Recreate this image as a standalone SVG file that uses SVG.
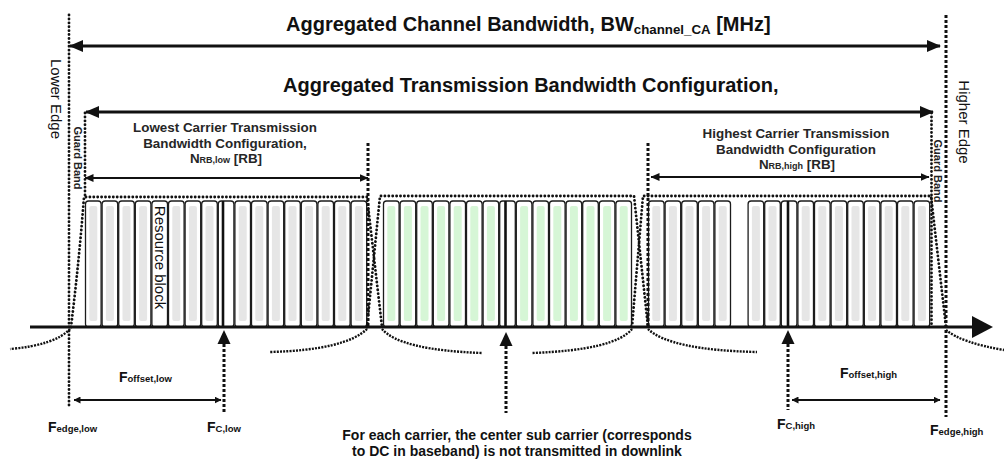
<svg xmlns="http://www.w3.org/2000/svg" xmlns:xlink="http://www.w3.org/1999/xlink" width="1004" height="459" viewBox="0 0 1004 459">
  <style>
    text { font-family: "Liberation Sans", Arial, sans-serif; fill: #111; }
    .title { font-size: 20px; font-weight: bold; }
    .cap { font-size: 13.4px; font-weight: bold; fill: #262626; text-anchor: middle; }
    .side { font-size: 15px; }
    .gb { font-size: 11px; font-weight: bold; fill: #222; }
    .f { font-size: 14px; font-weight: bold; }
    .note { font-size: 14px; font-weight: bold; text-anchor: middle; }
    .rbox { fill: #fff; stroke: #1c1c1c; stroke-width: 1.3; }
    .gray { fill: #e6e6e6; }
    .green { fill: #d6f6d6; }
    .dots { fill: none; stroke: #111; stroke-width: 2.8; stroke-dasharray: 0.1 3.8; stroke-linecap: round; }
    .dash { fill: none; stroke: #111; stroke-width: 3; stroke-dasharray: 3 2; }
    .skirt { fill: none; stroke: #111; stroke-width: 2.4; stroke-dasharray: 2 1.2; }
    .arrow { fill: none; stroke: #111; }
    .dc { stroke: #111; stroke-width: 2.6; }
  </style>
  <defs>
    <marker id="big" viewBox="0 0 14 12" refX="13" refY="6" markerWidth="14" markerHeight="12" markerUnits="userSpaceOnUse" orient="auto-start-reverse">
      <path d="M0,0 L14,6 L0,12 z" fill="#111"/>
    </marker>
    <marker id="mid" viewBox="0 0 9 8" refX="8.5" refY="4" markerWidth="9" markerHeight="8" markerUnits="userSpaceOnUse" orient="auto-start-reverse">
      <path d="M0,0 L9,4 L0,8 z" fill="#111"/>
    </marker>
    <marker id="small" viewBox="0 0 7 7" refX="6.5" refY="3.5" markerWidth="7" markerHeight="7" markerUnits="userSpaceOnUse" orient="auto-start-reverse">
      <path d="M0,0 L7,3.5 L0,7 z" fill="#111"/>
    </marker>
    <!-- resource block variants -->
    <g id="rbGray">
      <rect class="rbox" x="0.5" y="201" width="15.6" height="126" rx="3"/>
      <rect class="gray" x="4.3" y="206" width="8" height="115" rx="2"/>
    </g>
    <g id="rbGreen">
      <rect class="rbox" x="0.5" y="201" width="15.6" height="126" rx="3"/>
      <rect class="green" x="4.3" y="206" width="8" height="115" rx="2"/>
    </g>
    <g id="rbPlain">
      <rect class="rbox" x="0.5" y="201" width="15.6" height="126" rx="3"/>
    </g>
  </defs>

  <rect width="1004" height="459" fill="#fff"/>

  <!-- lowest carrier -->
  <g id="carrier-low">
    <use xlink:href="#rbGray" x="85"/>
    <use xlink:href="#rbGray" x="101.6"/>
    <use xlink:href="#rbGray" x="118.2"/>
    <use xlink:href="#rbGray" x="134.8"/>
    <use xlink:href="#rbPlain" x="151.4"/>
    <use xlink:href="#rbGray" x="168"/>
    <use xlink:href="#rbGray" x="184.6"/>
    <use xlink:href="#rbGray" x="201.2"/>
    <use xlink:href="#rbPlain" x="217.8"/>
    <use xlink:href="#rbGray" x="234.4"/>
    <use xlink:href="#rbGray" x="251"/>
    <use xlink:href="#rbGray" x="267.6"/>
    <use xlink:href="#rbGray" x="284.2"/>
    <use xlink:href="#rbGray" x="300.8"/>
    <use xlink:href="#rbGray" x="317.4"/>
    <use xlink:href="#rbGray" x="334"/>
    <use xlink:href="#rbGray" x="350.6"/>
    <line class="dc" x1="223" y1="201" x2="223" y2="327"/>
    <text class="side" x="155" y="257.5" text-anchor="middle" transform="rotate(90 155 257.5)">Resource block</text>
  </g>

  <!-- middle carrier -->
  <g id="carrier-mid">
    <use xlink:href="#rbGreen" x="383"/>
    <use xlink:href="#rbGreen" x="399.6"/>
    <use xlink:href="#rbGreen" x="416.2"/>
    <use xlink:href="#rbGreen" x="432.8"/>
    <use xlink:href="#rbGreen" x="449.4"/>
    <use xlink:href="#rbGreen" x="466"/>
    <use xlink:href="#rbGreen" x="482.6"/>
    <use xlink:href="#rbPlain" x="499.2"/>
    <use xlink:href="#rbGreen" x="515.8"/>
    <use xlink:href="#rbGreen" x="532.4"/>
    <use xlink:href="#rbGreen" x="549"/>
    <use xlink:href="#rbGreen" x="565.6"/>
    <use xlink:href="#rbGreen" x="582.2"/>
    <use xlink:href="#rbGreen" x="598.8"/>
    <use xlink:href="#rbGreen" x="615.4"/>
    <line class="dc" x1="505.5" y1="201" x2="505.5" y2="327"/>
  </g>

  <!-- highest carrier -->
  <g id="carrier-high">
    <use xlink:href="#rbGray" x="648"/>
    <use xlink:href="#rbGray" x="664.6"/>
    <use xlink:href="#rbGray" x="681.2"/>
    <use xlink:href="#rbGray" x="697.8"/>
    <use xlink:href="#rbGray" x="714.4"/>
    <use xlink:href="#rbGray" x="747.6"/>
    <use xlink:href="#rbGray" x="764.2"/>
    <use xlink:href="#rbPlain" x="780.8"/>
    <use xlink:href="#rbGray" x="797.4"/>
    <use xlink:href="#rbGray" x="814"/>
    <use xlink:href="#rbGray" x="830.6"/>
    <use xlink:href="#rbGray" x="847.2"/>
    <use xlink:href="#rbGray" x="863.8"/>
    <use xlink:href="#rbGray" x="880.4"/>
    <use xlink:href="#rbGray" x="897"/>
    <use xlink:href="#rbGray" x="913.6"/>
    <line class="dc" x1="788" y1="201" x2="788" y2="327"/>
  </g>

  <!-- spectrum masks, edges and guard bands -->
  <g id="masks">
    <line class="dots" x1="69" y1="15" x2="69" y2="405"/>
    <line class="dash" x1="946" y1="15" x2="946" y2="417"/>
    <line class="dots" x1="85" y1="113" x2="85" y2="196"/>
    <line class="dots" x1="931.5" y1="113" x2="931.5" y2="325"/>
    <line class="dash" x1="368" y1="143" x2="368" y2="328"/>
    <line class="dash" x1="648" y1="143" x2="648" y2="328"/>
    <path class="dots" d="M71,327 Q79,262 84,197 L367,197 L382,327"/>
    <path class="dots" d="M367,327 L380,196 L634,196 L648,327"/>
    <path class="dots" d="M632,327 L643,196 L931,196 L946,327"/>
    <path class="skirt" d="M70,329 Q55,345 10,349"/>
    <path class="skirt" d="M367,329 Q345,350 270,352"/>
    <path class="skirt" d="M382,329 Q400,350 482,353"/>
    <path class="skirt" d="M632,329 Q615,350 532,353"/>
    <path class="skirt" d="M648,329 Q670,350 757,352"/>
    <path class="skirt" d="M946,330 Q962,343 1004,350"/>
  </g>

  <!-- arrows and axis -->
  <g id="connectors">
    <line class="arrow" stroke-width="3" x1="70" y1="46" x2="940" y2="46" marker-start="url(#big)" marker-end="url(#big)"/>
    <line class="arrow" stroke-width="3" x1="86" y1="112" x2="933" y2="112" marker-start="url(#big)" marker-end="url(#big)"/>
    <line class="arrow" stroke-width="2" x1="85" y1="178" x2="368" y2="178" marker-start="url(#mid)" marker-end="url(#mid)"/>
    <line class="arrow" stroke-width="2" x1="651" y1="177" x2="929" y2="177" marker-start="url(#mid)" marker-end="url(#mid)"/>
    <line class="arrow" stroke-width="2" x1="74" y1="400" x2="221" y2="400" marker-start="url(#small)" marker-end="url(#small)"/>
    <line class="arrow" stroke-width="2" x1="792" y1="400" x2="940" y2="400" marker-start="url(#small)" marker-end="url(#small)"/>
    <line class="arrow" stroke-width="3" x1="30" y1="327" x2="975" y2="327"/>
    <polygon points="972,316 993,327 972,338" fill="#111"/>
    <polygon points="224,330 217.5,344 230.5,344" fill="#111"/>
    <line class="dash" x1="224" y1="344" x2="224" y2="412"/>
    <polygon points="506,332 499.5,346 512.5,346" fill="#111"/>
    <line class="dash" x1="506" y1="346" x2="506" y2="413"/>
    <polygon points="788,330 781.5,344 794.5,344" fill="#111"/>
    <line class="dash" x1="788" y1="344" x2="788" y2="410"/>
  </g>

  <!-- labels -->
  <g id="labels">
    <text class="title" x="286" y="31">Aggregated Channel Bandwidth, BW<tspan font-size="13.3" dy="3">channel_CA</tspan><tspan dy="-3"> [MHz]</tspan></text>
    <text class="title" x="283" y="92" font-size="19.8">Aggregated Transmission Bandwidth Configuration,</text>

    <text class="side" x="99" y="-51" text-anchor="middle" transform="rotate(90)">Lower Edge</text>
    <text class="side" x="122" y="-958.5" text-anchor="middle" transform="rotate(90)">Higher Edge</text>
    <text class="gb" x="158" y="-73.5" text-anchor="middle" transform="rotate(90)">Guard Band</text>
    <text class="gb" x="171" y="-934" text-anchor="middle" transform="rotate(90)">Guard Band</text>

    <text class="cap" x="225" y="132">Lowest Carrier Transmission</text>
    <text class="cap" x="225" y="147.5">Bandwidth Configuration,</text>
    <text class="cap" x="226" y="163">N<tspan font-size="9">RB,low</tspan> [RB]</text>

    <text class="cap" x="796" y="138">Highest Carrier Transmission</text>
    <text class="cap" x="796" y="153.5">Bandwidth Configuration</text>
    <text class="cap" x="797" y="168.5">N<tspan font-size="9">RB,high</tspan> [RB]</text>

    <text class="f" x="119" y="382">F<tspan font-size="9.5">offset,low</tspan></text>
    <text class="f" x="48" y="432">F<tspan font-size="9.5">edge,low</tspan></text>
    <text class="f" x="207" y="432">F<tspan font-size="9.5">C,low</tspan></text>
    <text class="f" x="840" y="378">F<tspan font-size="9.5">offset,high</tspan></text>
    <text class="f" x="777" y="429">F<tspan font-size="9.5">C,high</tspan></text>
    <text class="f" x="930" y="435">F<tspan font-size="9.5">edge,high</tspan></text>

    <text class="note" x="517" y="440">For each carrier, the center sub carrier (corresponds</text>
    <text class="note" x="517" y="455.5">to DC in baseband) is not transmitted in downlink</text>
  </g>
</svg>
